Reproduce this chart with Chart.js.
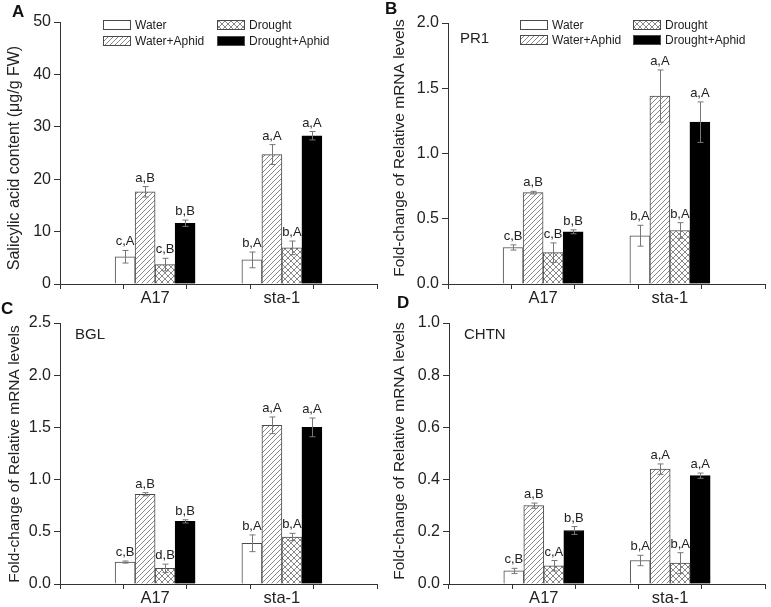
<!DOCTYPE html>
<html>
<head>
<meta charset="utf-8">
<script src="https://cdn.jsdelivr.net/npm/chart.js@4.4.1/dist/chart.umd.min.js"></script>
<style>
    body { margin: 0; background: #fff; width: 771px; height: 607px; position: relative; overflow: hidden; }
    canvas { position: absolute; }
    .tag { position: absolute; font: bold 17px "Liberation Sans", Arial, sans-serif; line-height: 17px; color: #111; }
</style>
</head>
<body>
<canvas id="chartA" width="385" height="320" style="left:0;top:0"></canvas>
<canvas id="chartB" width="386" height="320" style="left:385px;top:0"></canvas>
<canvas id="chartC" width="385" height="307" style="left:0;top:300px"></canvas>
<canvas id="chartD" width="386" height="307" style="left:385px;top:300px"></canvas>
<div class="tag" style="left:12px;top:3px">A</div>
<div class="tag" style="left:385px;top:0px">B</div>
<div class="tag" style="left:1px;top:300px">C</div>
<div class="tag" style="left:397px;top:294px">D</div>

<script>
// Genotypes on the x axis and the four treatments (one dataset each)
const categories = ['A17', 'sta-1'];
const treatments = ['Water', 'Water+Aphid', 'Drought', 'Drought+Aphid'];

// Panel A - salicylic acid content (ug/g FW), rows follow treatments
const saValues = [[5.2, 4.6], [17.6, 24.7], [3.7, 6.9], [11.6, 28.3]];
const saErrors = [[1.2, 1.5], [1.0, 1.9], [1.2, 1.3], [0.6, 0.8]];
const saLetters = [['c,A', 'b,A'], ['a,B', 'a,A'], ['c,B', 'b,A'], ['b,B', 'a,A']];

// Panel B - PR1 expression
const pr1Values = [[0.28, 0.37], [0.70, 1.44], [0.24, 0.41], [0.40, 1.24]];
const pr1Errors = [[0.02, 0.08], [0.01, 0.20], [0.075, 0.06], [0.015, 0.155]];
const pr1Letters = [['c,B', 'b,A'], ['a,B', 'a,A'], ['c,B', 'b,A'], ['b,B', 'a,A']];

// Panel C - BGL expression
const bglValues = [[0.21, 0.39], [0.86, 1.52], [0.15, 0.45], [0.60, 1.50]];
const bglErrors = [[0.01, 0.08], [0.015, 0.08], [0.04, 0.035], [0.015, 0.09]];
const bglLetters = [['c,B', 'b,A'], ['a,B', 'a,A'], ['d,B', 'b,A'], ['b,B', 'a,A']];

// Panel D - CHTN expression
const chtnValues = [[0.05, 0.09], [0.30, 0.44], [0.07, 0.08], [0.205, 0.415]];
const chtnErrors = [[0.01, 0.02], [0.01, 0.02], [0.02, 0.04], [0.015, 0.01]];
const chtnLetters = [['c,B', 'b,A'], ['a,B', 'a,A'], ['c,A', 'b,A'], ['b,B', 'a,A']];

// Y axis ranges / tick steps
const saTicks = { max: 50, step: 10 };
const pr1Ticks = { max: 2.0, step: 0.5 };
const bglTicks = { max: 2.5, step: 0.5 };
const chtnTicks = { max: 1.0, step: 0.2 };

const FONT = '"Liberation Sans", Arial, sans-serif';
const AXIS = '#333';
const EDGE = '#4a4a4a';

// Small tiles used as bar fills
function makePattern(size, cross) {
    const c = document.createElement('canvas');
    c.width = size; c.height = size;
    const g = c.getContext('2d');
    g.fillStyle = '#fff';
    g.fillRect(0, 0, size, size);
    g.strokeStyle = '#6a6a6a';
    g.lineWidth = 0.8;
    g.beginPath();
    g.moveTo(0, size); g.lineTo(size, 0);
    g.moveTo(-1, 1); g.lineTo(1, -1);
    g.moveTo(size - 1, size + 1); g.lineTo(size + 1, size - 1);
    if (cross) {
        g.moveTo(0, 0); g.lineTo(size, size);
        g.moveTo(size - 1, -1); g.lineTo(size + 1, 1);
        g.moveTo(-1, size - 1); g.lineTo(1, size + 1);
    }
    g.stroke();
    return g.createPattern(c, 'repeat');
}

const fills = ['#ffffff', makePattern(5, false), makePattern(6, true), '#000000'];

// Error bars and significance letters, drawn on top of the bars
const errorBarPlugin = {
    id: 'errorBars',
    afterDatasetsDraw(chart) {
        const ctx = chart.ctx;
        const yScale = chart.scales.y;
        ctx.save();
        chart.data.datasets.forEach((ds, di) => {
            const meta = chart.getDatasetMeta(di);
            meta.data.forEach((bar, i) => {
                const v = ds.data[i].y;
                const e = ds.errors[i];
                const top = yScale.getPixelForValue(v + e);
                const bottom = yScale.getPixelForValue(Math.max(0, v - e));
                const x = Math.round(bar.x) + 0.5;
                ctx.strokeStyle = '#777';
                ctx.lineWidth = 1;
                ctx.beginPath();
                ctx.moveTo(x, top); ctx.lineTo(x, bottom);
                ctx.moveTo(x - 3, top); ctx.lineTo(x + 3, top);
                ctx.moveTo(x - 3, bottom); ctx.lineTo(x + 3, bottom);
                ctx.stroke();
                ctx.fillStyle = '#222';
                ctx.font = '13px ' + FONT;
                ctx.textAlign = 'center';
                ctx.textBaseline = 'alphabetic';
                ctx.fillText(ds.letters[i], bar.x, top - 5);
            });
        });
        ctx.restore();
    }
};

// Y title, legend inside the plot (A and B) and gene name (B, C, D)
const annotationPlugin = {
    id: 'panelText',
    afterDraw(chart, args, opts) {
        const ctx = chart.ctx;
        ctx.save();
        ctx.fillStyle = '#222';

        // rotated y axis title
        ctx.save();
        ctx.translate(15, opts.titleY);
        ctx.rotate(-Math.PI / 2);
        ctx.font = opts.titleSize + 'px ' + FONT;
        ctx.textAlign = 'center';
        ctx.textBaseline = 'middle';
        ctx.fillText(opts.title, 0, 0);
        ctx.restore();

        if (opts.legend) {
            const L = opts.legend;
            chart.data.datasets.forEach((ds, i) => {
                const cx = i < 2 ? L.x1 : L.x2;
                const cy = i % 2 === 0 ? L.y1 : L.y2;
                ctx.fillStyle = ds.backgroundColor;
                ctx.fillRect(cx, cy - 4.5, 27, 9);
                ctx.strokeStyle = EDGE;
                ctx.lineWidth = 1;
                ctx.strokeRect(cx + 0.5, cy - 4.5, 27, 9);
                ctx.fillStyle = '#222';
                ctx.font = '12px ' + FONT;
                ctx.textAlign = 'left';
                ctx.textBaseline = 'middle';
                ctx.fillText(ds.label, cx + 32, cy + 0.5);
            });
        }
        if (opts.gene) {
            ctx.fillStyle = '#222';
            ctx.font = '15px ' + FONT;
            ctx.textAlign = 'left';
            ctx.textBaseline = 'middle';
            ctx.fillText(opts.gene.text, opts.gene.x, opts.gene.y);
        }
        ctx.restore();
    }
};

function buildPanel(id, values, errors, letters, range, cfg) {
    const datasets = treatments.map((name, t) => ({
        label: name,
        data: categories.map((c, i) => ({ x: i + 1, y: values[t][i] })),
        errors: errors[t],
        letters: letters[t],
        backgroundColor: fills[t],
        borderColor: t === 3 ? '#000' : EDGE,
        borderWidth: 1,
        borderSkipped: 'bottom',
        barThickness: 20
    }));

    return new Chart(document.getElementById(id), {
        type: 'bar',
        data: { datasets: datasets },
        options: {
            responsive: false,
            animation: false,
            devicePixelRatio: 1,
            layout: {
                autoPadding: false,
                padding: { top: cfg.top, right: cfg.right, left: 0, bottom: 0 }
            },
            plugins: {
                legend: { display: false },
                tooltip: { enabled: false },
                panelText: {
                    legend: cfg.legend,
                    gene: cfg.gene,
                    title: cfg.yTitle,
                    titleY: cfg.titleY,
                    titleSize: cfg.titleSize
                }
            },
            scales: {
                x: {
                    type: 'linear',
                    min: 0.5,
                    max: 2.5,
                    afterFit: s => { s.height = cfg.xHeight; },
                    ticks: {
                        stepSize: 0.5,
                        autoSkip: false,
                        maxRotation: 0,
                        padding: 0,
                        color: '#222',
                        font: { family: FONT, size: 16.5 },
                        callback: v => Number.isInteger(v) ? categories[v - 1] : ''
                    },
                    grid: { drawOnChartArea: false, drawTicks: true, tickLength: 5, color: AXIS },
                    border: { display: true, color: AXIS, width: 1 }
                },
                y: {
                    min: 0,
                    max: range.max,
                    afterFit: s => { s.width = cfg.yWidth; },
                    ticks: {
                        stepSize: range.step,
                        padding: 3,
                        color: '#222',
                        font: { family: FONT, size: 16 },
                        callback: v => range.step < 1 ? v.toFixed(1) : String(v)
                    },
                    grid: { drawOnChartArea: false, drawTicks: true, tickLength: 6, color: AXIS },
                    border: { display: true, color: AXIS, width: 1 }
                }
            }
        },
        plugins: [errorBarPlugin, annotationPlugin]
    });
}

const mrnaTitle = 'Fold-change of Relative mRNA levels';

buildPanel('chartA', saValues, saErrors, saLetters, saTicks, {
    top: 22, right: 8, yWidth: 60, xHeight: 36,
    yTitle: 'Salicylic acid content (\u03bcg/g FW)', titleY: 158, titleSize: 16,
    legend: { x1: 103, x2: 217, y1: 25, y2: 41 }
});
buildPanel('chartB', pr1Values, pr1Errors, pr1Letters, pr1Ticks, {
    top: 23, right: 6, yWidth: 63, xHeight: 36,
    yTitle: mrnaTitle, titleY: 148, titleSize: 15.5,
    legend: { x1: 135, x2: 248, y1: 25, y2: 40 },
    gene: { text: 'PR1', x: 75, y: 39 }
});
buildPanel('chartC', bglValues, bglErrors, bglLetters, bglTicks, {
    top: 23, right: 8, yWidth: 60, xHeight: 23,
    yTitle: mrnaTitle, titleY: 154, titleSize: 15.5,
    gene: { text: 'BGL', x: 75, y: 35 }
});
buildPanel('chartD', chtnValues, chtnErrors, chtnLetters, chtnTicks, {
    top: 23, right: 6, yWidth: 64, xHeight: 23,
    yTitle: mrnaTitle, titleY: 151, titleSize: 15.5,
    gene: { text: 'CHTN', x: 79, y: 35 }
});
</script>
</body>
</html>
